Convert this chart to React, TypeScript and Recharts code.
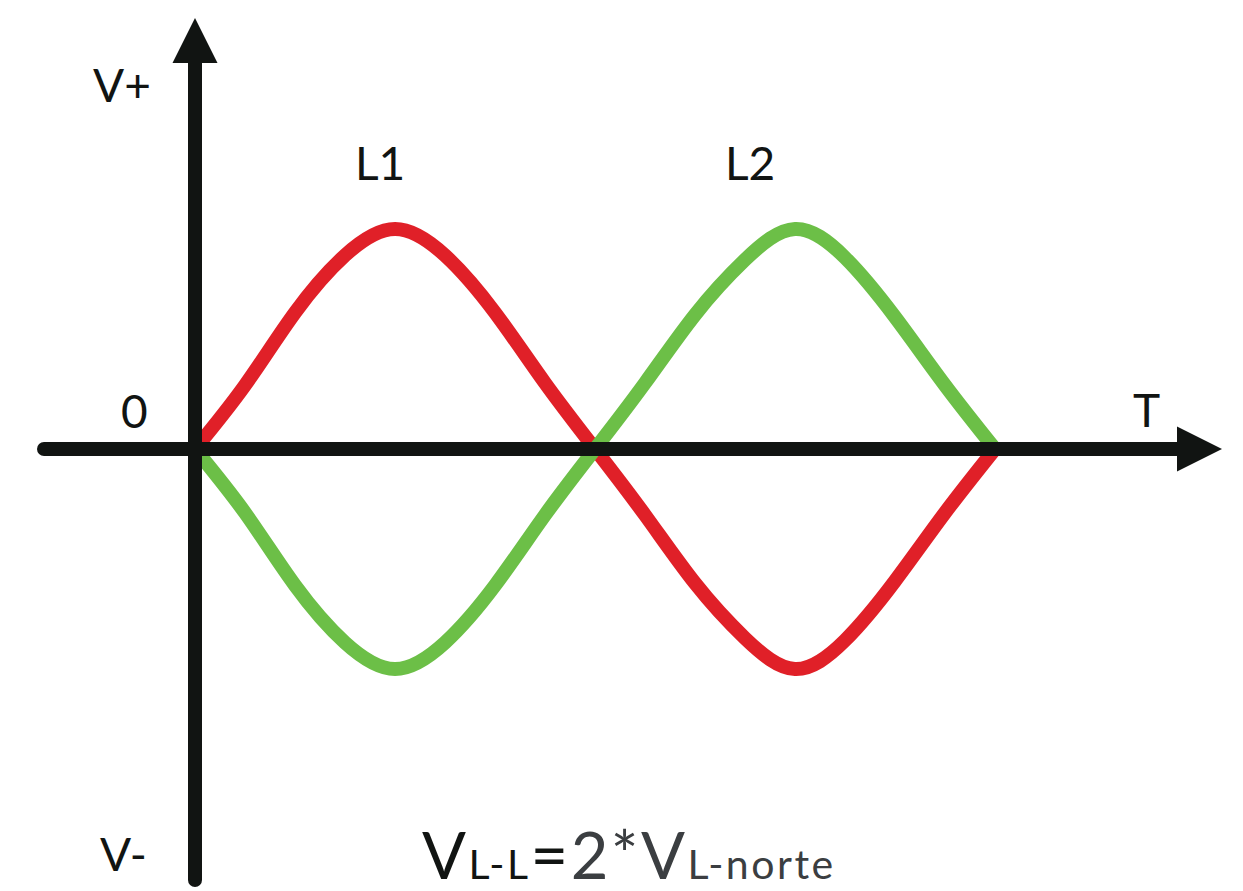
import { LineChart, Line, XAxis, YAxis, ReferenceLine } from 'recharts';

// time samples (one unit = a quarter period)
const times = [0, 0.25, 0.5, 0.75, 1, 1.25, 1.5, 1.75, 2, 2.25, 2.5, 2.75, 3, 3.25, 3.5, 3.75, 4];
const l1Values = [0, 0.29, 0.62, 0.88, 1, 0.88, 0.62, 0.3, 0, -0.3, -0.61, -0.86, -1, -0.87, -0.6, -0.29, 0];
const l2Values = [0, -0.29, -0.62, -0.88, -1, -0.88, -0.62, -0.3, 0, 0.3, 0.61, 0.86, 1, 0.87, 0.6, 0.29, 0];

const data = times.map((t, i) => ({ t, l1: l1Values[i], l2: l2Values[i] }));

const ink = '#111412';
const font = 'Lato, "Noto Sans", sans-serif';

const ArrowAxis = (props: any) => {
  const { x1, y1, x2, y2 } = props;
  const dx = x2 - x1;
  const dy = y2 - y1;
  const len = Math.hypot(dx, dy) || 1;
  const ux = dx / len;
  const uy = dy / len;
  const head = 45;
  const half = 22.5;
  const bx = x2 - ux * head;
  const by = y2 - uy * head;
  return (
    <g>
      <line x1={x1} y1={y1} x2={bx} y2={by} stroke={ink} strokeWidth={14} strokeLinecap="round" />
      <polygon
        points={`${x2},${y2} ${bx - uy * half},${by + ux * half} ${bx + uy * half},${by - ux * half}`}
        fill={ink}
      />
    </g>
  );
};

export default function App() {
  return (
    <div style={{ position: 'absolute', left: 0, top: 0, width: 1243, height: 891, background: '#fff' }}>
      <LineChart width={1243} height={891} data={data} margin={{ top: 9, right: 248, bottom: 2, left: 195 }}>
        <XAxis type="number" dataKey="t" domain={[0, 4]} hide />
        <YAxis type="number" domain={[-2, 2]} hide />
        <Line type="natural" dataKey="l1" stroke="#e02028" strokeWidth={14} dot={false} isAnimationActive={false} />
        <Line type="natural" dataKey="l2" stroke="#6cbf47" strokeWidth={14} dot={false} isAnimationActive={false} />
        <ReferenceLine
          segment={[{ x: -0.755, y: 0 }, { x: 5.135, y: 0 }]}
          ifOverflow="visible"
          shape={ArrowAxis}
        />
        <ReferenceLine
          segment={[{ x: 0, y: -1.959 }, { x: 0, y: 1.959 }]}
          ifOverflow="visible"
          shape={ArrowAxis}
        />
        <text x={93} y={102} fontFamily={font} fontSize={46} fill={ink}>V+</text>
        <text x={100} y={871} fontFamily={font} fontSize={46} fill={ink}>V-</text>
        <text x={121} y={428} fontFamily={font} fontSize={46} fill={ink}>0</text>
        <text x={1133} y={427} fontFamily={font} fontSize={46} fill={ink}>T</text>
        <text x={355} y={180} fontFamily={font} fontSize={46} fill={ink}>L1</text>
        <text x={725} y={180} fontFamily={font} fontSize={46} fill={ink}>L2</text>
        <text x={422} y={879} fontFamily={font} fill={ink} letterSpacing={2.5}>
          <tspan fontSize={65}>V</tspan>
          <tspan fontSize={41}>L-L</tspan>
          <tspan fontSize={65}>=</tspan>
          <tspan fontSize={65} fill="#3b3e41">2*V</tspan>
          <tspan fontSize={41} fill="#3b3e41">L-norte</tspan>
        </text>
      </LineChart>
    </div>
  );
}
